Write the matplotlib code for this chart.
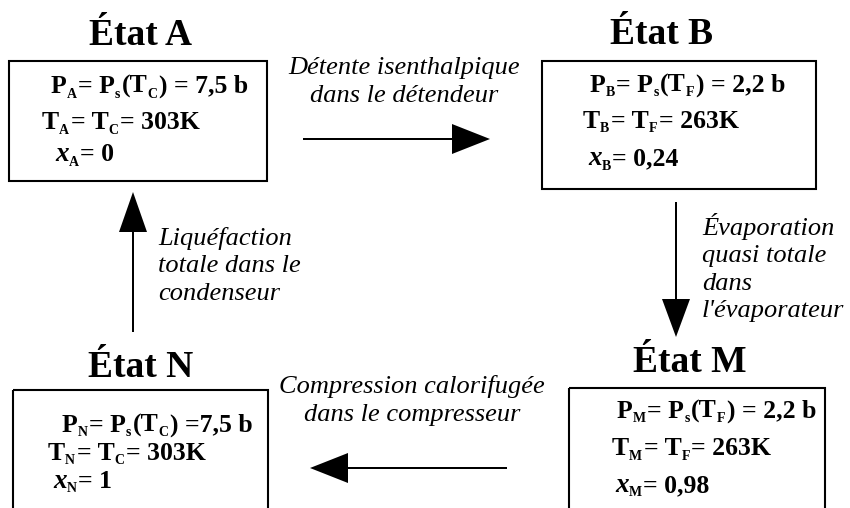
import matplotlib
matplotlib.use('Agg')
import matplotlib.pyplot as plt
from matplotlib.patches import Rectangle

# states of the refrigeration cycle
states = ['A', 'B', 'N', 'M']
sat_temp = ['C', 'F', 'C', 'F']
pressures = ['7,5', '2,2', '7,5', '2,2']
temps = ['303', '263', '303', '263']
titres = ['0', '0,24', '1', '0,98']
eq_gap = [' ', ' ', '', ' ']

# transitions between states
trans_top = ['Détente isenthalpique', 'dans le détendeur']
trans_right = ['Évaporation', 'quasi totale', 'dans', "l'évaporateur"]
trans_bottom = ['Compression calorifugée', 'dans le compresseur']
trans_left = ['Liquéfaction', 'totale dans le', 'condenseur']

# layout (pixels)
boxes = {'A': (9, 61, 267, 181), 'B': (542, 61, 816, 189),
         'N': (13, 390, 268, 530), 'M': (569, 388, 825, 530)}
titles_pos = {'A': (141, 45), 'B': (662, 44), 'N': (141, 377), 'M': (690, 372)}
lines_pos = {'A': [(51, 93), (42, 129), (55, 161)],
             'B': [(590, 92), (583, 128), (588, 165)],
             'N': [(62, 432), (48, 460), (53, 488)],
             'M': [(617, 418), (612, 455), (615, 492)]}

SERIF = 'Liberation Serif'
MAIN = 18.5
SUB = 10
LBL = 19

fig = plt.figure(figsize=(8.5, 5.08), dpi=100)
ax = fig.add_axes([0, 0, 1, 1])
ax.set_xlim(0, 850)
ax.set_ylim(508, 0)
ax.axis('off')
renderer = fig.canvas.get_renderer()


def rich(x, y, parts):
    # parts: (text, kind) kind in 'n' normal, 's' subscript, 'i' bold italic
    for s, kind in parts:
        if kind == 's':
            t = ax.text(x, y + 4.5, s, fontsize=SUB, fontweight='bold',
                        family=SERIF, va='baseline')
        else:
            t = ax.text(x, y, s, fontsize=MAIN + (1 if kind == 'i' else 0),
                        fontweight='bold', fontstyle='italic' if kind == 'i' else 'normal',
                        family=SERIF, va='baseline')
        bb = t.get_window_extent(renderer)
        x += bb.width + (1.5 if kind == 's' else 0)


for i, st in enumerate(states):
    x0, y0, x1, y1 = boxes[st]
    ax.add_patch(Rectangle((x0, y0), x1 - x0, y1 - y0, fill=False, lw=1.5,
                           ec='black', clip_on=False))
    tx, ty = titles_pos[st]
    ax.text(tx, ty, 'État ' + st, fontsize=27, fontweight='bold', family=SERIF,
            ha='center', va='baseline')
    (lx1, ly1), (lx2, ly2), (lx3, ly3) = lines_pos[st]
    sc = sat_temp[i]
    rich(lx1, ly1, [('P', 'n'), (st, 's'), ('= P', 'n'), ('s', 's'), ('(T', 'n'),
                    (sc, 's'), (')' + ' =' + eq_gap[i] + pressures[i] + ' b', 'n')])
    rich(lx2, ly2, [('T', 'n'), (st, 's'), ('= T', 'n'), (sc, 's'),
                    ('= ' + temps[i] + 'K', 'n')])
    rich(lx3, ly3, [('x', 'i'), (st, 's'), ('= ' + titres[i], 'n')])

# arrows
arr = dict(width=2, head_width=30, head_length=38, length_includes_head=True,
           color='black', lw=0)
ax.arrow(303, 139, 187, 0, **arr)
ax.arrow(676, 202, 0, 135, **dict(arr, head_width=28))
ax.arrow(507, 468, -197, 0, **arr)
ax.arrow(133, 332, 0, -140, **dict(arr, head_width=28, head_length=40))

for k, s in enumerate(trans_top):
    ax.text(404, 74 + 28 * k, s, fontsize=LBL, fontstyle='italic', family=SERIF,
            ha='center', va='baseline')
for k, s in enumerate(trans_bottom):
    ax.text(412, 393 + 28 * k, s, fontsize=LBL, fontstyle='italic', family=SERIF,
            ha='center', va='baseline')
for k, s in enumerate(trans_left):
    ax.text(158, 245 + 27.5 * k, s, fontsize=LBL, fontstyle='italic', family=SERIF,
            ha='left', va='baseline')
for k, s in enumerate(trans_right):
    ax.text(702, 235 + 27.3 * k, s, fontsize=LBL, fontstyle='italic', family=SERIF,
            ha='left', va='baseline')

fig.savefig('out.png', dpi=100)
